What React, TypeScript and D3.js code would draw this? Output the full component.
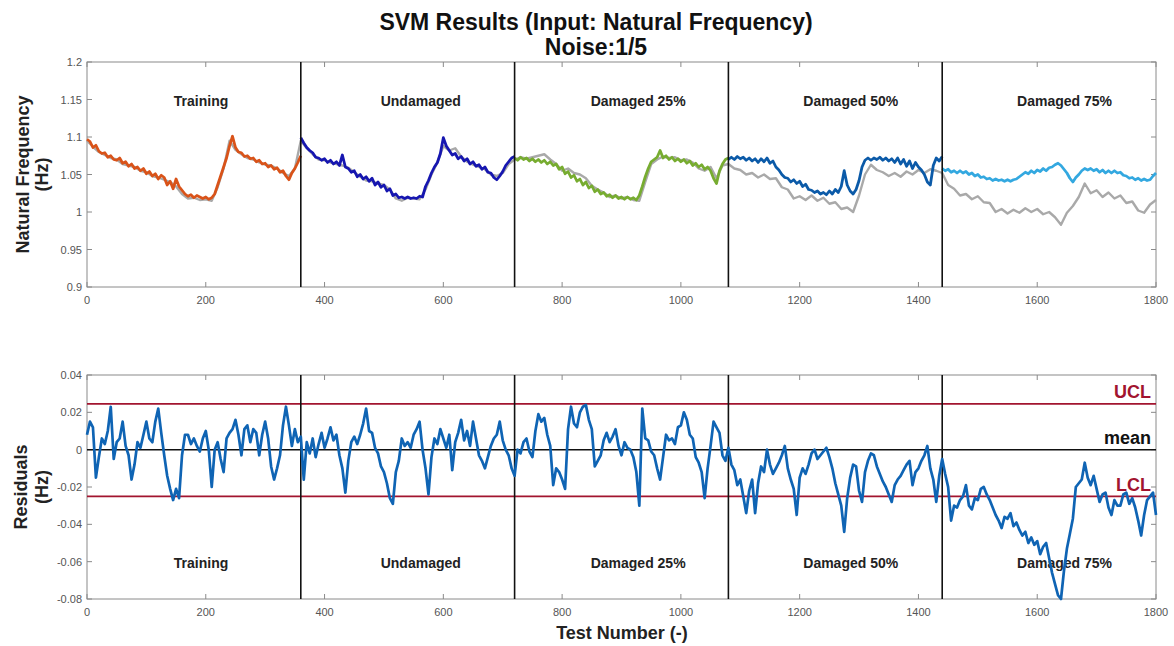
import React from 'react';
import * as d3 from 'd3';

// ---------- data ----------
const segments = ['Training', 'Undamaged', 'Damaged 25%', 'Damaged 50%', 'Damaged 75%'];
const segmentStarts = [0, 360, 720, 1080, 1440];
const segmentColors = ['#d95319', '#1616b0', '#77ac30', '#0b5aa8', '#33a8e0'];
const boundaries = [360, 720, 1080, 1440];
const labelAt = [192, 562, 928, 1286, 1646];
const xTicks = [0, 200, 400, 600, 800, 1000, 1200, 1400, 1600, 1800];
const freqTicks = [0.9, 0.95, 1, 1.05, 1.1, 1.15, 1.2];
const resTicks = [-0.08, -0.06, -0.04, -0.02, 0, 0.02, 0.04];
const UCL = 0.0245;
const LCL = -0.025;
const MEAN = 0;

// measured natural frequency, every 5 tests, each segment start..start+360
const measTraining = [1.097, 1.094, 1.086, 1.089, 1.081, 1.078, 1.079, 1.073, 1.075, 1.070, 1.069, 1.072, 1.065, 1.067, 1.061, 1.064, 1.058, 1.060, 1.055, 1.058, 1.051, 1.054, 1.048, 1.051, 1.044, 1.049, 1.046, 1.036, 1.041, 1.031, 1.044, 1.034, 1.029, 1.024, 1.021, 1.023, 1.019, 1.022, 1.020, 1.018, 1.020, 1.017, 1.019, 1.024, 1.036, 1.048, 1.060, 1.072, 1.088, 1.101, 1.086, 1.080, 1.079, 1.074, 1.075, 1.071, 1.072, 1.067, 1.069, 1.064, 1.065, 1.060, 1.062, 1.057, 1.059, 1.053, 1.055, 1.048, 1.043, 1.052, 1.058, 1.066, 1.075];
const measUndamaged = [1.099, 1.092, 1.086, 1.082, 1.079, 1.073, 1.072, 1.069, 1.071, 1.066, 1.069, 1.064, 1.067, 1.062, 1.076, 1.060, 1.058, 1.053, 1.055, 1.047, 1.050, 1.044, 1.047, 1.041, 1.045, 1.036, 1.040, 1.033, 1.036, 1.028, 1.031, 1.022, 1.024, 1.019, 1.020, 1.018, 1.020, 1.018, 1.019, 1.018, 1.021, 1.020, 1.034, 1.042, 1.052, 1.060, 1.066, 1.078, 1.099, 1.088, 1.082, 1.076, 1.078, 1.071, 1.074, 1.068, 1.071, 1.064, 1.067, 1.061, 1.063, 1.057, 1.060, 1.053, 1.052, 1.046, 1.043, 1.048, 1.054, 1.062, 1.067, 1.072, 1.074];
const measD25 = [1.072, 1.069, 1.073, 1.070, 1.072, 1.068, 1.071, 1.067, 1.070, 1.066, 1.069, 1.064, 1.067, 1.062, 1.064, 1.057, 1.060, 1.051, 1.054, 1.046, 1.049, 1.041, 1.044, 1.036, 1.040, 1.032, 1.035, 1.027, 1.030, 1.024, 1.026, 1.021, 1.023, 1.019, 1.022, 1.018, 1.020, 1.017, 1.020, 1.017, 1.019, 1.016, 1.022, 1.034, 1.047, 1.058, 1.067, 1.070, 1.073, 1.082, 1.072, 1.075, 1.070, 1.073, 1.068, 1.071, 1.067, 1.070, 1.065, 1.068, 1.062, 1.065, 1.060, 1.063, 1.057, 1.060, 1.055, 1.045, 1.038, 1.055, 1.064, 1.070, 1.072];
const measD50 = [1.070, 1.073, 1.070, 1.074, 1.071, 1.073, 1.069, 1.072, 1.068, 1.071, 1.066, 1.071, 1.067, 1.072, 1.065, 1.068, 1.060, 1.056, 1.050, 1.046, 1.045, 1.040, 1.043, 1.038, 1.041, 1.034, 1.037, 1.030, 1.029, 1.026, 1.028, 1.024, 1.026, 1.023, 1.028, 1.024, 1.030, 1.026, 1.034, 1.055, 1.036, 1.028, 1.024, 1.030, 1.042, 1.060, 1.069, 1.072, 1.069, 1.072, 1.070, 1.073, 1.069, 1.072, 1.068, 1.071, 1.066, 1.072, 1.064, 1.070, 1.061, 1.068, 1.058, 1.066, 1.060, 1.056, 1.050, 1.040, 1.036, 1.062, 1.072, 1.068, 1.074];
const measD75 = [1.058, 1.055, 1.057, 1.053, 1.055, 1.052, 1.055, 1.052, 1.054, 1.050, 1.052, 1.048, 1.050, 1.046, 1.047, 1.044, 1.045, 1.042, 1.044, 1.042, 1.043, 1.041, 1.043, 1.041, 1.043, 1.044, 1.047, 1.050, 1.053, 1.051, 1.055, 1.052, 1.056, 1.054, 1.058, 1.055, 1.059, 1.060, 1.063, 1.065, 1.062, 1.057, 1.052, 1.045, 1.040, 1.046, 1.050, 1.055, 1.058, 1.056, 1.058, 1.055, 1.057, 1.053, 1.056, 1.052, 1.055, 1.052, 1.055, 1.052, 1.053, 1.049, 1.048, 1.045, 1.046, 1.043, 1.045, 1.042, 1.044, 1.042, 1.043, 1.048, 1.052];
const measured = [measTraining, measUndamaged, measD25, measD50, measD75];

// predicted (SVM) natural frequency, every 10 tests
const predTraining = [1.095, 1.087, 1.080, 1.076, 1.072, 1.070, 1.064, 1.062, 1.060, 1.055, 1.053, 1.048, 1.046, 1.043, 1.040, 1.034, 1.024, 1.018, 1.019, 1.016, 1.017, 1.015, 1.033, 1.058, 1.095, 1.083, 1.077, 1.072, 1.070, 1.066, 1.063, 1.062, 1.058, 1.052, 1.048, 1.058];
const predUndamaged = [1.095, 1.085, 1.077, 1.070, 1.069, 1.066, 1.064, 1.062, 1.059, 1.053, 1.047, 1.042, 1.041, 1.038, 1.036, 1.030, 1.018, 1.015, 1.019, 1.018, 1.017, 1.030, 1.050, 1.066, 1.088, 1.082, 1.085, 1.074, 1.067, 1.063, 1.060, 1.057, 1.050, 1.048, 1.052, 1.064];
const predD25 = [1.070, 1.073, 1.071, 1.073, 1.075, 1.077, 1.070, 1.064, 1.055, 1.058, 1.052, 1.050, 1.045, 1.035, 1.030, 1.026, 1.020, 1.022, 1.018, 1.020, 1.016, 1.015, 1.040, 1.064, 1.070, 1.074, 1.072, 1.073, 1.069, 1.070, 1.066, 1.058, 1.055, 1.060, 1.045, 1.062];
const predD50 = [1.064, 1.058, 1.056, 1.050, 1.052, 1.046, 1.050, 1.044, 1.045, 1.033, 1.030, 1.018, 1.021, 1.016, 1.022, 1.015, 1.019, 1.011, 1.013, 1.004, 1.006, 1.000, 1.022, 1.050, 1.063, 1.056, 1.053, 1.048, 1.052, 1.047, 1.054, 1.050, 1.056, 1.052, 1.057, 1.055];
const predD75 = [1.052, 1.036, 1.031, 1.022, 1.024, 1.017, 1.021, 1.013, 1.012, 1.000, 1.004, 0.998, 1.003, 0.999, 1.005, 1.000, 1.004, 0.997, 1.000, 0.993, 0.983, 0.999, 1.008, 1.020, 1.038, 1.025, 1.029, 1.020, 1.026, 1.018, 1.022, 1.012, 1.014, 1.002, 0.999, 1.010, 1.016];
const predicted = [predTraining, predUndamaged, predD25, predD50, predD75];

// residuals, every 5 tests
const resTraining = [0.008, 0.015, 0.012, -0.015, -0.004, 0.006, 0.003, 0.010, 0.023, -0.005, 0.004, 0.006, 0.015, 0.002, -0.003, -0.016, -0.008, 0.004, 0.001, 0.008, 0.015, 0.006, 0.004, 0.015, 0.022, 0.009, -0.003, -0.014, -0.021, -0.027, -0.021, -0.026, -0.003, 0.008, 0.008, 0.003, 0.006, 0.002, -0.001, 0.006, 0.010, 0.000, -0.020, 0.000, 0.004, -0.005, -0.012, 0.006, 0.009, 0.011, 0.016, 0.008, -0.003, 0.011, 0.013, 0.004, 0.011, 0.009, -0.003, 0.008, 0.015, 0.006, -0.009, -0.016, -0.010, -0.003, 0.013, 0.023, 0.013, 0.002, 0.011, 0.004];
const resUndamaged = [0.007, -0.016, 0.004, -0.002, 0.006, -0.004, 0.003, 0.009, 0.001, 0.006, 0.012, 0.005, 0.008, -0.003, -0.010, -0.023, -0.006, 0.004, 0.007, 0.003, 0.008, 0.014, 0.022, 0.010, 0.009, 0.001, -0.002, -0.009, -0.012, -0.018, -0.026, -0.029, -0.012, -0.006, 0.006, 0.002, 0.004, 0.001, 0.008, 0.011, 0.015, 0.000, -0.010, -0.024, -0.004, 0.006, 0.003, 0.011, 0.006, 0.001, 0.008, -0.011, 0.004, 0.009, 0.016, 0.005, 0.010, 0.002, 0.015, 0.006, -0.003, -0.006, -0.010, -0.004, 0.002, 0.006, 0.008, 0.015, 0.005, 0.000, -0.003, -0.010];
const resD25 = [-0.014, 0.000, -0.002, 0.004, 0.006, -0.001, -0.004, 0.010, 0.019, 0.015, 0.017, 0.008, 0.002, -0.019, -0.010, -0.012, -0.016, -0.021, 0.011, 0.023, 0.014, 0.012, 0.020, 0.023, 0.024, 0.016, 0.011, -0.009, -0.006, -0.003, 0.005, 0.009, 0.004, 0.007, 0.011, 0.002, -0.003, 0.004, 0.001, 0.000, -0.004, -0.012, -0.030, 0.022, 0.006, 0.005, -0.001, -0.003, -0.010, -0.016, -0.004, 0.008, 0.005, 0.006, 0.003, 0.012, 0.013, 0.020, 0.016, 0.008, 0.006, -0.004, -0.007, -0.012, -0.026, -0.010, 0.002, 0.015, 0.012, 0.009, -0.003, -0.006];
const resD50 = [0.001, -0.008, -0.011, -0.019, -0.016, -0.025, -0.034, -0.022, -0.016, -0.034, -0.018, -0.009, -0.012, 0.000, -0.008, -0.013, -0.010, -0.007, -0.003, 0.002, -0.010, -0.016, -0.021, -0.035, -0.015, -0.010, -0.013, -0.008, -0.002, 0.000, -0.005, -0.003, -0.001, 0.001, -0.004, -0.010, -0.018, -0.024, -0.030, -0.044, -0.026, -0.015, -0.008, -0.009, -0.022, -0.028, -0.012, -0.006, -0.002, -0.003, -0.009, -0.013, -0.017, -0.020, -0.024, -0.028, -0.019, -0.016, -0.014, -0.011, -0.008, -0.006, -0.019, -0.012, -0.010, -0.006, -0.003, 0.002, -0.010, -0.016, -0.028, -0.014];
const resD75 = [-0.005, -0.013, -0.020, -0.038, -0.030, -0.031, -0.027, -0.025, -0.019, -0.030, -0.032, -0.026, -0.027, -0.021, -0.020, -0.024, -0.027, -0.031, -0.035, -0.038, -0.042, -0.036, -0.037, -0.034, -0.041, -0.039, -0.043, -0.046, -0.044, -0.050, -0.047, -0.051, -0.049, -0.056, -0.052, -0.050, -0.058, -0.066, -0.072, -0.078, -0.080, -0.065, -0.053, -0.045, -0.037, -0.020, -0.018, -0.016, -0.007, -0.015, -0.019, -0.014, -0.021, -0.028, -0.024, -0.023, -0.031, -0.035, -0.027, -0.030, -0.030, -0.024, -0.023, -0.029, -0.026, -0.031, -0.038, -0.046, -0.035, -0.027, -0.025, -0.023, -0.035];
const residuals = [resTraining, resUndamaged, resD25, resD50, resD75];

// ---------- layout ----------
const W = 1174;
const H = 646;
const X0 = 87;
const X1 = 1156;
const TOP = { y0: 62, y1: 287 };
const BOT = { y0: 375, y1: 599 };
const FONT = '"Liberation Sans", Arial, Helvetica, sans-serif';

const x = d3.scaleLinear().domain([0, 1800]).range([X0, X1]);
const yF = d3.scaleLinear().domain([0.9, 1.2]).range([TOP.y1, TOP.y0]);
const yR = d3.scaleLinear().domain([-0.08, 0.04]).range([BOT.y1, BOT.y0]);

type Pt = [number, number];
const withT = (arr: number[], start: number, step: number): Pt[] => arr.map((v, i) => [start + i * step, v]);

function Axes({ y, ticks, y0, y1, fmt }: { y: d3.ScaleLinear<number, number>; ticks: number[]; y0: number; y1: number; fmt: (v: number) => string }) {
  const tl = 5;
  return (
    <g>
      <rect x={X0} y={y0} width={X1 - X0} height={y1 - y0} fill="none" stroke="#8a8a8a" strokeWidth={1} />
      {xTicks.map((t) => (
        <g key={'x' + t}>
          <line x1={x(t)} x2={x(t)} y1={y1} y2={y1 - tl} stroke="#8a8a8a" />
          <line x1={x(t)} x2={x(t)} y1={y0} y2={y0 + tl} stroke="#8a8a8a" />
          <text x={x(t)} y={y1 + 17} textAnchor="middle" fontSize={11} fill="#555" fontFamily={FONT}>{t}</text>
        </g>
      ))}
      {ticks.map((v) => (
        <g key={'y' + v}>
          <line x1={X0} x2={X0 + tl} y1={y(v)} y2={y(v)} stroke="#8a8a8a" />
          <line x1={X1} x2={X1 - tl} y1={y(v)} y2={y(v)} stroke="#8a8a8a" />
          <text x={X0 - 5} y={y(v) + 4} textAnchor="end" fontSize={11} fill="#555" fontFamily={FONT}>{fmt(v)}</text>
        </g>
      ))}
    </g>
  );
}

export default function App() {
  const fmt = (v: number) => String(+v.toFixed(2));
  const lineF = d3.line<Pt>().x((d) => x(d[0])).y((d) => yF(d[1]));
  const lineR = d3.line<Pt>().x((d) => x(d[0])).y((d) => yR(d[1]));

  const predPts: Pt[] = predicted.flatMap((arr, k) => withT(arr, segmentStarts[k], 10));
  const resPts: Pt[] = residuals.flatMap((arr, k) => withT(arr, segmentStarts[k], 5));

  return (
    <svg width={W} height={H} style={{ position: 'absolute', left: 0, top: 0, background: '#fff' }} fontFamily={FONT}>
      {/* titles */}
      <text x={596} y={30} textAnchor="middle" fontSize={23} fontWeight="bold" fill="#111">SVM Results (Input: Natural Frequency)</text>
      <text x={596} y={55} textAnchor="middle" fontSize={23} fontWeight="bold" fill="#111">Noise:1/5</text>

      {/* top panel */}
      <Axes y={yF} ticks={freqTicks} y0={TOP.y0} y1={TOP.y1} fmt={fmt} />
      {segments.map((s, k) => (
        <text key={s} x={x(labelAt[k])} y={106} textAnchor="middle" fontSize={14} fontWeight="bold" fill="#222">{s}</text>
      ))}
      <path d={lineF(predPts) || ''} fill="none" stroke="#a9a9a9" strokeWidth={2.4} strokeLinejoin="round" />
      {measured.map((arr, k) => (
        <path key={k} d={lineF(withT(arr, segmentStarts[k], 5)) || ''} fill="none" stroke={segmentColors[k]} strokeWidth={2.8} strokeLinejoin="round" />
      ))}
      {boundaries.map((b) => (
        <line key={'tb' + b} x1={x(b)} x2={x(b)} y1={TOP.y0} y2={TOP.y1} stroke="#111" strokeWidth={1.6} />
      ))}
      <text transform={`translate(29,${(TOP.y0 + TOP.y1) / 2}) rotate(-90)`} textAnchor="middle" fontSize={18} fontWeight="bold" fill="#222">Natural Frequency</text>
      <text transform={`translate(48,${(TOP.y0 + TOP.y1) / 2}) rotate(-90)`} textAnchor="middle" fontSize={18} fontWeight="bold" fill="#222">(Hz)</text>

      {/* bottom panel */}
      <Axes y={yR} ticks={resTicks} y0={BOT.y0} y1={BOT.y1} fmt={fmt} />
      {segments.map((s, k) => (
        <text key={'b' + s} x={x(labelAt[k])} y={568} textAnchor="middle" fontSize={14} fontWeight="bold" fill="#222">{s}</text>
      ))}
      <text x={X1 - 5} y={398} textAnchor="end" fontSize={18} fontWeight="bold" fill="#a2142f">UCL</text>
      <text x={X1 - 5} y={444} textAnchor="end" fontSize={18} fontWeight="bold" fill="#111">mean</text>
      <text x={X1 - 5} y={491} textAnchor="end" fontSize={18} fontWeight="bold" fill="#a2142f">LCL</text>
      <line x1={X0} x2={X1} y1={yR(UCL)} y2={yR(UCL)} stroke="#a2142f" strokeWidth={1.8} />
      <line x1={X0} x2={X1} y1={yR(LCL)} y2={yR(LCL)} stroke="#a2142f" strokeWidth={1.8} />
      <line x1={X0} x2={X1} y1={yR(MEAN)} y2={yR(MEAN)} stroke="#111" strokeWidth={1.5} />
      {boundaries.map((b) => (
        <line key={'bb' + b} x1={x(b)} x2={x(b)} y1={BOT.y0} y2={BOT.y1} stroke="#111" strokeWidth={1.6} />
      ))}
      <path d={lineR(resPts) || ''} fill="none" stroke="#0f64b4" strokeWidth={2.7} strokeLinejoin="round" />
      <text transform={`translate(27,${(BOT.y0 + BOT.y1) / 2}) rotate(-90)`} textAnchor="middle" fontSize={18} fontWeight="bold" fill="#222">Residuals</text>
      <text transform={`translate(48,${(BOT.y0 + BOT.y1) / 2}) rotate(-90)`} textAnchor="middle" fontSize={18} fontWeight="bold" fill="#222">(Hz)</text>
      <text x={622} y={639} textAnchor="middle" fontSize={18} fontWeight="bold" fill="#222">Test Number (-)</text>
    </svg>
  );
}
